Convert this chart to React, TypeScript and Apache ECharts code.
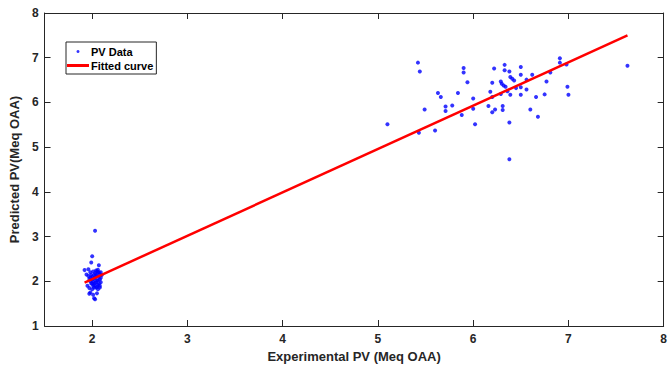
import React, { useEffect, useRef } from "react";
import * as echarts from "echarts";

const lowX = [1.92,1.96,1.99,2.00,2.03,2.07,1.98,2.02,2.03,2.05,2.02,1.94,1.97,1.98,1.99,2.00,2.01,2.01,2.02,2.03,2.03,2.04,2.04,2.05,2.05,2.06,2.06,2.07,2.07,2.08,2.08,2.09,2.09,2.10,1.95,1.96,1.97,1.98,1.99,2.00,2.00,2.01,2.02,2.03,2.04,2.05,2.06,2.06,2.07,2.08,2.09,1.98,2.00,2.02,2.04,2.05,1.97,2.01,2.06,2.08];
const lowY = [2.25,2.27,2.42,2.56,3.13,2.36,1.75,1.62,1.60,1.73,1.86,2.15,2.05,2.20,1.95,2.10,2.00,2.22,1.92,2.08,2.18,1.98,2.24,2.12,1.88,2.02,2.20,1.95,2.10,2.04,2.16,1.98,2.08,2.14,1.90,2.12,1.85,2.00,2.14,1.82,2.04,1.90,2.06,1.96,2.14,2.02,1.92,1.82,2.20,1.90,2.20,2.08,1.95,2.14,1.86,2.22,1.72,1.70,2.26,1.86];

const highX = [5.10,5.42,5.44,5.43,5.49,5.60,5.63,5.66,5.71,5.71,5.78,5.84,5.88,5.90,5.90,5.94,6.00,6.00,6.02,6.16,6.18,6.20,6.20,6.22,6.23,6.20,6.29,6.30,6.32,6.31,6.31,6.29,6.33,6.33,6.34,6.36,6.38,6.38,6.38,6.39,6.39,6.41,6.43,6.45,6.50,6.50,6.50,6.50,6.56,6.56,6.60,6.62,6.66,6.68,6.75,6.77,6.81,6.91,6.91,6.98,6.99,7.00,7.62];
const highY = [5.51,6.89,6.69,5.32,5.84,5.37,6.21,6.12,5.91,5.81,5.93,6.21,5.72,6.77,6.67,6.45,6.09,5.86,5.51,5.92,6.24,6.44,5.78,6.76,5.84,6.12,6.47,6.42,6.38,5.92,5.83,6.19,6.84,6.72,6.35,6.25,5.55,4.73,6.69,6.57,6.17,6.53,6.49,6.32,6.79,6.62,6.34,6.17,6.51,6.29,5.84,6.62,6.12,5.68,6.18,6.47,6.67,6.99,6.89,6.85,6.35,6.17,6.82];

const fitX = [1.92, 7.62];
const fitY = [1.97, 7.50];

const xTicks = [2, 3, 4, 5, 6, 7, 8];

const FONT = "Liberation Sans";
const AX = "#262626";

export default function App() {
  const ref = useRef<HTMLDivElement>(null);
  useEffect(() => {
    if (!ref.current) return;
    const chart = echarts.init(ref.current, null, { renderer: "svg" });
    const pts = lowX.map((x, i) => [x, lowY[i]]).concat(highX.map((x, i) => [x, highY[i]]));
    const fit = fitX.map((x, i) => [x, fitY[i]]);
    const axisCommon = {
      axisLine: { show: true, onZero: false, lineStyle: { color: AX, width: 1 } },
      axisTick: { show: true, inside: true, length: 6, lineStyle: { color: AX } },
      splitLine: { show: false },
    };
    chart.setOption({
      animation: false,
      backgroundColor: "#ffffff",
      textStyle: { fontFamily: FONT },
      grid: { left: 40, top: 13, right: 6, bottom: 46, containLabel: false },
      legend: {
        left: 66,
        top: 42,
        orient: "vertical",
        backgroundColor: "#ffffff",
        borderColor: AX,
        borderWidth: 1,
        borderRadius: 0,
        padding: [4, 3, 3, 1],
        itemGap: 3,
        itemWidth: 22,
        itemHeight: 3,
        textStyle: { fontFamily: FONT, fontWeight: "bold", fontSize: 11, color: "#000", padding: [0, 0, 0, -3] },
        data: [
          { name: "PV Data", icon: "circle", itemStyle: { color: "#0000ff" } },
          { name: "Fitted curve", icon: "rect", itemStyle: { color: "#ff0000" } },
        ],
      },
      xAxis: [
        {
          type: "value",
          min: 1.5,
          max: 8,
          ...axisCommon,
          axisTick: { ...axisCommon.axisTick, customValues: xTicks },
          axisLabel: { customValues: xTicks, color: AX, fontSize: 12, fontWeight: "bold", fontFamily: FONT, margin: 7 },
          name: "Experimental PV (Meq OAA)",
          nameLocation: "middle",
          nameGap: 23,
          nameTextStyle: { fontSize: 13, fontWeight: "bold", color: AX, fontFamily: FONT },
        },
        {
          type: "value",
          position: "top",
          min: 1.5,
          max: 8,
          ...axisCommon,
          axisTick: { ...axisCommon.axisTick, customValues: xTicks },
          axisLabel: { show: false },
        },
      ],
      yAxis: [
        {
          type: "value",
          min: 1,
          max: 8,
          interval: 1,
          ...axisCommon,
          axisLabel: { color: AX, fontSize: 12, fontWeight: "bold", fontFamily: FONT, margin: 6 },
          name: "Predicted PV(Meq OAA)",
          nameLocation: "middle",
          nameGap: 17,
          nameTextStyle: { fontSize: 13, fontWeight: "bold", color: AX, fontFamily: FONT },
        },
        {
          type: "value",
          position: "right",
          min: 1,
          max: 8,
          interval: 1,
          ...axisCommon,
          axisLabel: { show: false },
        },
      ],
      series: [
        {
          name: "PV Data",
          type: "scatter",
          data: pts,
          symbol: "circle",
          symbolSize: 4,
          itemStyle: { color: "#0000ff" },
          xAxisIndex: 0,
          yAxisIndex: 0,
        },
        {
          name: "Fitted curve",
          type: "line",
          data: fit,
          showSymbol: false,
          symbol: "none",
          lineStyle: { color: "#ff0000", width: 2.5 },
          itemStyle: { color: "#ff0000" },
          xAxisIndex: 0,
          yAxisIndex: 0,
        },
      ],
    });
    return () => chart.dispose();
  }, []);
  return <div ref={ref} style={{ width: 670, height: 372, position: "absolute", left: 0, top: 0 }} />;
}
